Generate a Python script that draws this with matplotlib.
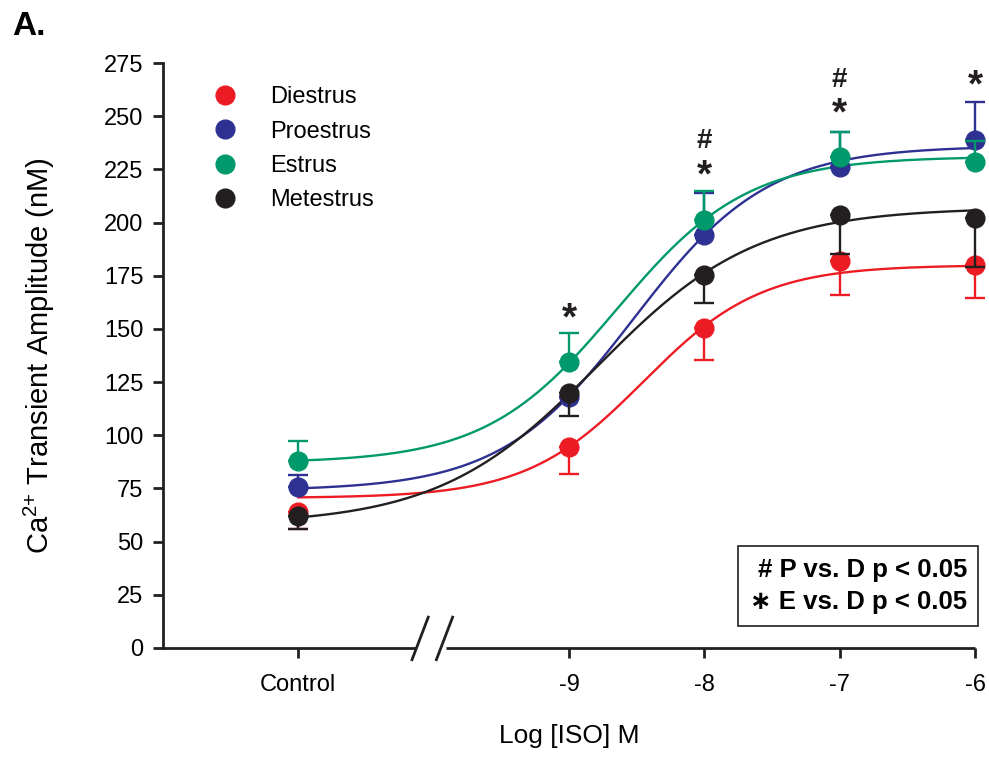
import matplotlib.pyplot as plt
import numpy as np
from matplotlib.lines import Line2D

plt.rcParams['font.family'] = ['Liberation Sans', 'DejaVu Sans']
plt.rcParams['mathtext.fontset'] = 'custom'
plt.rcParams['mathtext.rm'] = 'Liberation Sans'

# x positions in log units; control is drawn at -11 (left of the axis break)
xpos = [-11, -9, -8, -7, -6]
xlabels = ['Control', '-9', '-8', '-7', '-6']

groups = ['Diestrus', 'Proestrus', 'Estrus', 'Metestrus']
colors = ['#ED1C24', '#2E3192', '#00996B', '#231F20']

diestrus = [64, 94.5, 150.5, 182, 180]
proestrus = [75.7, 118, 194, 226, 238.8]
estrus = [88, 134.5, 201, 231, 228.5]
metestrus = [62, 120, 175.5, 203.5, 202]

# SEM (drawn one-sided: down for D/M, up for P/E)
diestrus_err = [8, 12.5, 15, 16, 15.5]
proestrus_err = [5.5, 0, 20, 16.5, 18]
estrus_err = [9.5, 13.5, 14, 11.5, 10]
metestrus_err = [6, 11, 13.5, 18.5, 23]

# sigmoid fit parameters: bottom, top, logEC50, hill slope
fit_bottom = [70.5, 74, 87, 58]
fit_top = [180, 236, 231, 207]
fit_ec50 = [-8.45, -8.52, -8.65, -8.79]
fit_hill = [1.0, 0.88, 0.9, 0.74]

means = [diestrus, proestrus, estrus, metestrus]
errs = [diestrus_err, proestrus_err, estrus_err, metestrus_err]
err_up = [False, True, True, False]

# significance marks
star_x = [-9, -8, -7, -6]
star_y = [157.5, 224.7, 253.9, 267]
hash_x = [-8, -7]
hash_y = [238.8, 267.5]

fig = plt.figure(figsize=(9.89, 7.61), dpi=100)
ax = fig.add_axes([163 / 989, 1 - 648 / 761, 812 / 989, 585 / 761])

xs = np.linspace(-11, -6, 300)
for i in range(4):
    curve = fit_bottom[i] + (fit_top[i] - fit_bottom[i]) / (1 + 10 ** (fit_hill[i] * (fit_ec50[i] - xs)))
    ax.plot(xs, curve, color=colors[i], lw=1.7, zorder=2 + i)
for i in range(4):
    e = np.array(errs[i])
    yerr = [np.zeros_like(e), e] if err_up[i] else [e, np.zeros_like(e)]
    ax.errorbar(xpos, means[i], yerr=yerr, fmt='o', color=colors[i], ms=13.5,
                elinewidth=1.7, capsize=7, capthick=1.7, clip_on=False, zorder=6 + i)

for x, y in zip(star_x, star_y):
    ax.annotate('*', (x, y), xytext=(0, -5), textcoords='offset points', fontsize=28,
                fontweight='bold', ha='center', va='center', color='#231F20')
for x, y in zip(hash_x, hash_y):
    ax.annotate('#', (x, y), xytext=(0, -1), textcoords='offset points', fontsize=20,
                fontweight='bold', ha='center', va='center', color='#231F20')

ax.set_xlim(-12, -6)
ax.set_ylim(0, 275)
ax.set_yticks(np.arange(0, 276, 25))
ax.set_xticks(xpos)
ax.set_xticklabels(xlabels)

for s in ['top', 'right', 'bottom']:
    ax.spines[s].set_visible(False)
ax.spines['left'].set_linewidth(2)
ax.spines['left'].set_color('#231F20')

# broken x axis
ax.plot([-12, -10.13], [0, 0], color='#231F20', lw=2, clip_on=False, solid_capstyle='butt')
ax.plot([-9.91, -6], [0, 0], color='#231F20', lw=2, clip_on=False, solid_capstyle='butt')
for xc in [-10.1, -9.92]:
    ax.plot([xc - 0.06, xc + 0.06], [-5.5, 14.5], color='#231F20', lw=2, clip_on=False)

ax.tick_params(axis='y', length=7, width=2, color='#231F20', labelsize=17, pad=7)
ax.tick_params(axis='x', length=7, width=2, color='#231F20', labelsize=17, pad=12)

ax.set_ylabel('Ca$^{\\mathregular{2{+}}}$ Transient Amplitude (nM)', fontsize=21, labelpad=34)
ax.set_xlabel('Log [ISO] M', fontsize=19, labelpad=20)

handles = [Line2D([], [], marker='o', ls='none', color=c, ms=13.5) for c in colors]
ax.legend(handles, groups, loc='upper left', bbox_to_anchor=(199 / 989, 1 - 77 / 761),
          bbox_transform=fig.transFigure, frameon=False, fontsize=17, handletextpad=1.2,
          labelspacing=0.52, borderaxespad=0, handlelength=1.4)

ax.text(0.99, 0.058, '# P vs. D p < 0.05\n\u2217 E vs. D p < 0.05', transform=ax.transAxes,
        ha='right', va='bottom', fontsize=18.5, fontweight='bold', linespacing=1.45,
        bbox=dict(boxstyle='square,pad=0.45', fc='white', ec='#231F20', lw=1.2))

fig.text(12 / 989, 1 - 35 / 761, 'A.', fontsize=24, fontweight='bold')

fig.savefig('out.png', dpi=100)
